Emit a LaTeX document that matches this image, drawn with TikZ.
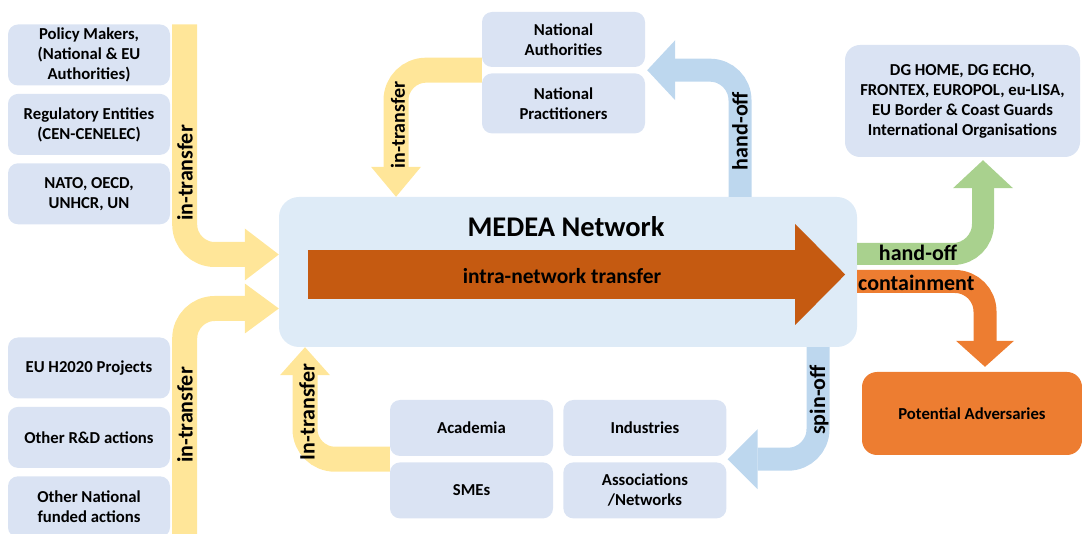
\documentclass[tikz,border=0pt]{standalone}
\usepackage{fontspec}
\setmainfont{Carlito}
\usepackage{tikz}
\definecolor{medeablue}{RGB}{222, 235, 247}
\definecolor{actorblue}{RGB}{218, 227, 243}
\definecolor{transferyellow}{RGB}{255, 230, 153}
\definecolor{handoffblue}{RGB}{189, 215, 238}
\definecolor{handoffgreen}{RGB}{169, 209, 142}
\definecolor{adversorange}{RGB}{237, 125, 49}
\definecolor{intraorange}{RGB}{197, 90, 17}
\usetikzlibrary{
  arrows.meta,
  calc,
  positioning,
}
\newcommand{\actorfont}{\fontsize{16.7}{20}\selectfont\bfseries}
\newcommand{\flowfont}{\fontsize{22}{26}\selectfont\bfseries}
\tikzset{
  actor/.style={rectangle,rounded corners=10pt,fill=actorblue,minimum width=163pt,minimum height=56pt,align=center,font=\actorfont,inner sep=2pt},
  fatflow/.style n args={4}{draw=#1,line width=#2,rounded corners=30pt,-{Triangle[length=#3,width=#4,line width=0pt]}},
  flowlabel/.style={font=\flowfont,inner sep=1pt},
}

\begin{document}
\begin{tikzpicture}[x=1pt,y=-1pt,node distance=8pt and 10pt]
        \useasboundingbox (0,0) rectangle (1082,534);

        % sources on the left
        \node[actor,minimum width=162pt,minimum height=61pt]    (policy) at (89,55)       {Policy Makers,\\(National \& EU\\Authorities)};
        \node[actor,minimum width=162pt,minimum height=61pt]    (regul) [below=of policy]       {Regulatory Entities\\(CEN-CENELEC)};
        \node[actor,minimum width=162pt,minimum height=61pt]    (nato) [below=of regul]       {NATO, OECD,\\UNHCR, UN};
        \node[actor,minimum width=162pt,minimum height=61pt]    (h2020) at (89,368)       {EU H2020 Projects};
        \node[actor,minimum width=162pt,minimum height=61pt]    (rnd) [below=of h2020]       {Other R\&D actions};
        \node[actor,minimum width=162pt,minimum height=61pt]    (natfund) [below=of rnd]       {Other National\\funded actions};

        % national side
        \node[actor,minimum height=55pt]    (natauth) at (563.5,39.5)       {National\\Authorities};
        \node[actor,minimum height=60pt]    (natpract) [below=6pt of natauth]       {National\\Practitioners};

        % research and industry
        \node[actor]    (academia) at (471.5,428)       {Academia};
        \node[actor]    (sme) [below=6pt of academia]       {SMEs};
        \node[actor]    (industries) [right=of academia]       {Industries};
        \node[actor]    (assoc) [below=6pt of industries]       {Associations\\/Networks};

        % receivers on the right
        \node[actor,minimum width=235pt,minimum height=112pt,rounded corners=15pt]    (dg) at (962.5,101)       {DG HOME, DG ECHO,\\FRONTEX, EUROPOL, eu-LISA,\\EU Border \& Coast Guards\\International Organisations};
        \node[actor,fill=adversorange,minimum width=220pt,minimum height=83pt,rounded corners=15pt]    (advers) at (972,413.5)       {Potential Adversaries};

        % the network
        \node[rectangle,rounded corners=20pt,fill=medeablue,minimum width=578pt,minimum height=150pt]    (medea) at (568,272)       {};
        \node[font=\fontsize{28.5}{32}\selectfont\bfseries]    (medeatitle) at (566,227)       {MEDEA Network};

        \coordinate (natwest) at ($(natauth.south west)!0.5!(natpract.north west)$);
        \coordinate (nateast) at ($(natauth.south east)!0.5!(natpract.north east)$);
        \coordinate (botwest) at ($(academia.south west)!0.5!(sme.north west)$);
        \coordinate (boteast) at ($(industries.south east)!0.5!(assoc.north east)$);

        \draw[fatflow={transferyellow}{25pt}{34pt}{52pt}] ([xshift=14.5pt]policy.north east) |- ([yshift=17.5pt]medea.west);
        \draw[fatflow={transferyellow}{25pt}{34pt}{50pt}] ([xshift=14.5pt]natfund.south east) |- ([yshift=-36.5pt]medea.west);
        \draw[fatflow={transferyellow}{25pt}{30pt}{50pt}] (natwest) -| ([xshift=-172pt]medea.north);
        \draw[fatflow={handoffblue}{23pt}{28pt}{60pt},shorten >=2pt] ([xshift=172pt]medea.north) |- (nateast);
        \draw[fatflow={handoffblue}{23pt}{30pt}{60pt},shorten >=1pt] ([xshift=250pt]medea.south) |- (boteast);
        \draw[fatflow={transferyellow}{25pt}{28pt}{50pt}] (botwest) -| ([xshift=-263pt]medea.south);
        \draw[fatflow={handoffgreen}{22pt}{28pt}{60pt},shorten >=3pt] ([yshift=18pt]medea.east) -| ([xshift=20.5pt]dg.south);
        \draw[fatflow={adversorange}{23pt}{26pt}{58pt},shorten >=5pt] ([yshift=-9.5pt]medea.east) -| ([xshift=13pt]advers.north);
        \draw[fatflow={intraorange}{49pt}{50pt}{101pt}] ([xshift=29pt,yshift=-2.5pt]medea.west) -- ([xshift=-12pt,yshift=-2.5pt]medea.east);

        % flow labels
        \node[font=\fontsize{21.5}{24}\selectfont\bfseries]    (intralabel) at (562,276)       {intra-network transfer};
        \node[flowlabel,rotate=90]    (inupper) at (185,173)       {in-transfer};
        \node[flowlabel,rotate=90]    (inlower) at (185,415)       {in-transfer};
        \node[flowlabel,rotate=90,font=\fontsize{20}{24}\selectfont\bfseries]    (innat) at (398,125)       {in-transfer};
        \node[flowlabel,rotate=90]    (handnat) at (740,131)       {hand-off};
        \node[flowlabel,rotate=90]    (spinoff) at (819,400)       {spin-off};
        \node[flowlabel,rotate=90]    (inacad) at (307,412)       {In-transfer};
        \node[flowlabel]    (handdg) at (918,253)       {hand-off};
        \node[flowlabel,anchor=west]    (contain) at (857,283)       {containment};

    \end{tikzpicture}
\end{document}
